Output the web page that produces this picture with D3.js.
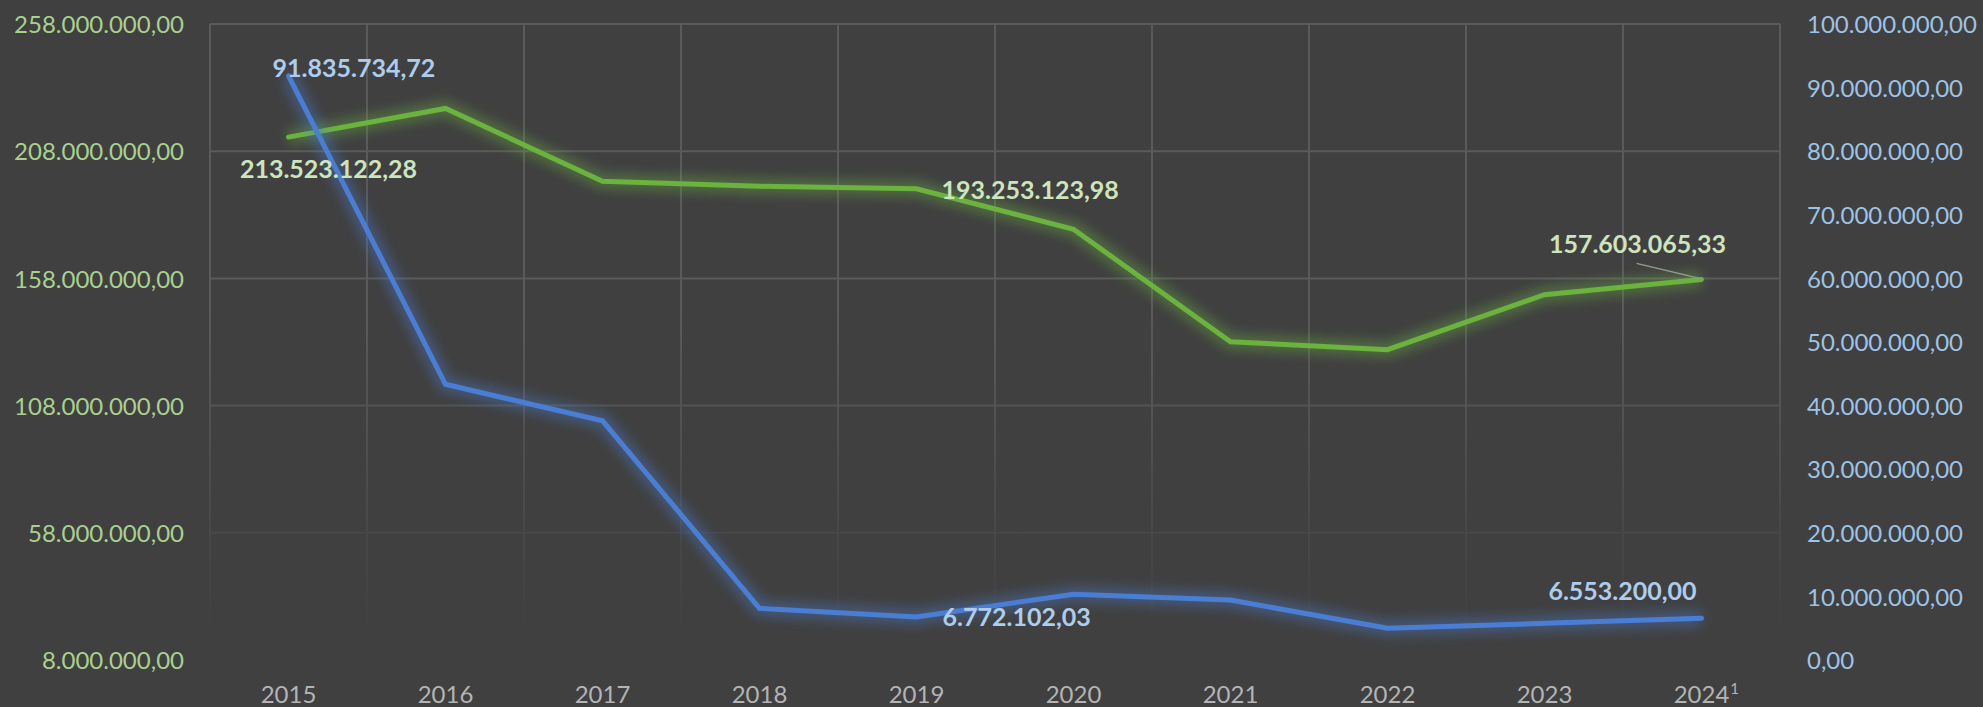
<!DOCTYPE html>
<html>
<head>
<meta charset="utf-8">
<script src="https://cdn.jsdelivr.net/npm/d3@7"></script>
<style>
  html, body { margin: 0; padding: 0; background: #404040; overflow: hidden; }
  svg { display: block; }
  text { font-family: Lato, "Open Sans", sans-serif; }
</style>
</head>
<body>
<svg id="chart" width="1983" height="707"></svg>
<script>
// ---- data ----
const categories = ["2015", "2016", "2017", "2018", "2019", "2020", "2021", "2022", "2023", "2024¹"];
const seriesGreen = [213523122.28, 224800000, 196200000, 194200000, 193253123.98, 177300000, 133100000, 130000000, 151600000, 157603065.33];
const seriesBlue  = [91835734.72, 43350000, 37600000, 8130000, 6772102.03, 10330000, 9430000, 4980000, 5770000, 6553200.00];
const leftTicks  = [8000000, 58000000, 108000000, 158000000, 208000000, 258000000];
const rightTicks = [0, 10000000, 20000000, 30000000, 40000000, 50000000, 60000000, 70000000, 80000000, 90000000, 100000000];
const greenLabelIdx = [0, 4, 9];
const blueLabelIdx  = [0, 4, 9];

// ---- layout / style ----
const W = 1983, H = 707;
const plot = { left: 210, right: 1780, top: 24, bottom: 660 };
const colors = {
  bg: "#404040", grid: "#5a5a5a",
  green: "#6bb23e", blue: "#4a7ed4",
  greenAxis: "#a9d18e", blueAxis: "#9dc3e6", xAxis: "#b4b4b4",
  greenLabel: "#cde4bd", blueLabel: "#aecdee"
};
// label offsets relative to point (anchor, dx, dy baseline)
const greenLabelPos = { 0: ["middle", 40, 41], 4: ["start", 25, 10.5], 9: ["middle", -64, -26] };
const blueLabelPos  = { 0: ["start", -16, 1], 4: ["start", 26, 9.5], 9: ["middle", -79, -18] };

const locale = d3.formatLocale({ decimal: ",", thousands: ".", grouping: [3], currency: ["", ""] });
const fmt = locale.format(",.2f");

const svg = d3.select("#chart");
svg.append("rect").attr("width", W).attr("height", H).attr("fill", colors.bg);

const defs = svg.append("defs");
const fg = defs.append("linearGradient").attr("id", "fade")
  .attr("gradientUnits", "userSpaceOnUse").attr("x1", 0).attr("y1", plot.top).attr("x2", 0).attr("y2", plot.bottom);
[[0, 1], [0.45, 1], [0.6, 0.75], [0.8, 0.3], [0.97, 0], [1, 0]].forEach(([o, a]) =>
  fg.append("stop").attr("offset", o).attr("stop-color", "white").attr("stop-opacity", a));
defs.append("mask").attr("id", "gridMask").attr("maskUnits", "userSpaceOnUse")
  .attr("x", 0).attr("y", 0).attr("width", W).attr("height", H)
  .append("rect").attr("x", 0).attr("y", 0).attr("width", W).attr("height", H).attr("fill", "url(#fade)");
defs.append("filter").attr("id", "glow").attr("x", "-20%").attr("y", "-50%").attr("width", "140%").attr("height", "200%")
  .append("feGaussianBlur").attr("stdDeviation", 6);

const x = d3.scaleBand().domain(categories).range([plot.left, plot.right]).padding(0);
const cx = d => x(d) + x.bandwidth() / 2;
const yL = d3.scaleLinear().domain([8000000, 258000000]).range([plot.bottom, plot.top]);
const yR = d3.scaleLinear().domain([0, 100000000]).range([plot.bottom, plot.top]);

// ---- grid ----
const grid = svg.append("g").attr("mask", "url(#gridMask)")
  .attr("stroke", colors.grid).attr("stroke-width", 2).attr("fill", "none");
grid.selectAll("line.h").data(leftTicks).join("line").attr("class", "h")
  .attr("x1", plot.left).attr("x2", plot.right).attr("y1", d => yL(d)).attr("y2", d => yL(d));
const vx = categories.map(c => x(c)).concat([plot.right]);
grid.selectAll("line.v").data(vx).join("line").attr("class", "v")
  .attr("x1", d => d).attr("x2", d => d).attr("y1", plot.top).attr("y2", plot.bottom);

// ---- axes labels ----
const axL = d3.axisLeft(yL).tickValues(leftTicks).tickFormat(fmt).tickSize(0).tickPadding(0);
const gL = svg.append("g").attr("transform", "translate(184,0)").call(axL);
gL.select(".domain").remove();
gL.selectAll("text").attr("fill", colors.greenAxis).attr("font-size", 24).attr("dy", "0.36em")
  .attr("font-family", "Lato");

const axR = d3.axisRight(yR).tickValues(rightTicks).tickFormat(fmt).tickSize(0).tickPadding(0);
const gR = svg.append("g").attr("transform", "translate(1807,0)").call(axR);
gR.select(".domain").remove();
gR.selectAll("text").attr("fill", colors.blueAxis).attr("font-size", 24).attr("dy", "0.36em")
  .attr("font-family", "Lato");

const axX = d3.axisBottom(x).tickSize(0).tickPadding(0).tickFormat(d => d.replace("¹", ""));
const gX = svg.append("g").attr("transform", "translate(0,703)").call(axX);
gX.select(".domain").remove();
gX.selectAll("text").attr("fill", colors.xAxis).attr("font-size", 24).attr("dy", 0)
  .attr("font-family", "Lato");
gX.selectAll(".tick").each(function (d) {
  if (d.includes("¹")) {
    const t = d3.select(this).select("text");
    const w = t.node().getComputedTextLength();
    d3.select(this).append("text").attr("x", w / 2 + 1).attr("y", -9)
      .attr("fill", colors.xAxis).attr("font-size", 15).attr("font-family", "Lato").attr("text-anchor", "start")
      .text("1");
  }
});

// ---- lines ----
const lineG = d3.line().x((d, i) => cx(categories[i])).y(d => yL(d));
const lineB = d3.line().x((d, i) => cx(categories[i])).y(d => yR(d));

function drawSeries(data, gen, color) {
  svg.append("path").attr("d", gen(data)).attr("fill", "none").attr("stroke", color)
    .attr("stroke-width", 16).attr("stroke-opacity", 0.38).attr("stroke-linejoin", "round")
    .attr("filter", "url(#glow)");
  svg.append("path").attr("d", gen(data)).attr("fill", "none").attr("stroke", color)
    .attr("stroke-width", 5).attr("stroke-linejoin", "miter").attr("stroke-linecap", "round");
}
drawSeries(seriesGreen, lineG, colors.green);
drawSeries(seriesBlue, lineB, colors.blue);

// ---- leader line for last green label ----
{
  const i = 9, px = cx(categories[i]), py = yL(seriesGreen[i]);
  svg.append("line").attr("x1", px - 65).attr("y1", py - 16).attr("x2", px - 2).attr("y2", py - 1)
    .attr("stroke", "#9a9a9a").attr("stroke-width", 1.2);
}

// ---- data labels ----
function labels(data, idx, scale, pos, color) {
  svg.append("g").selectAll("text").data(idx).join("text")
    .attr("x", i => cx(categories[i]) + pos[i][1])
    .attr("y", i => scale(data[i]) + pos[i][2])
    .attr("text-anchor", i => pos[i][0])
    .attr("fill", color).attr("font-size", 25).attr("font-weight", 700).attr("font-family", "Lato")
    .text(i => fmt(data[i]));
}
labels(seriesGreen, greenLabelIdx, yL, greenLabelPos, colors.greenLabel);
labels(seriesBlue, blueLabelIdx, yR, blueLabelPos, colors.blueLabel);
</script>
</body>
</html>
